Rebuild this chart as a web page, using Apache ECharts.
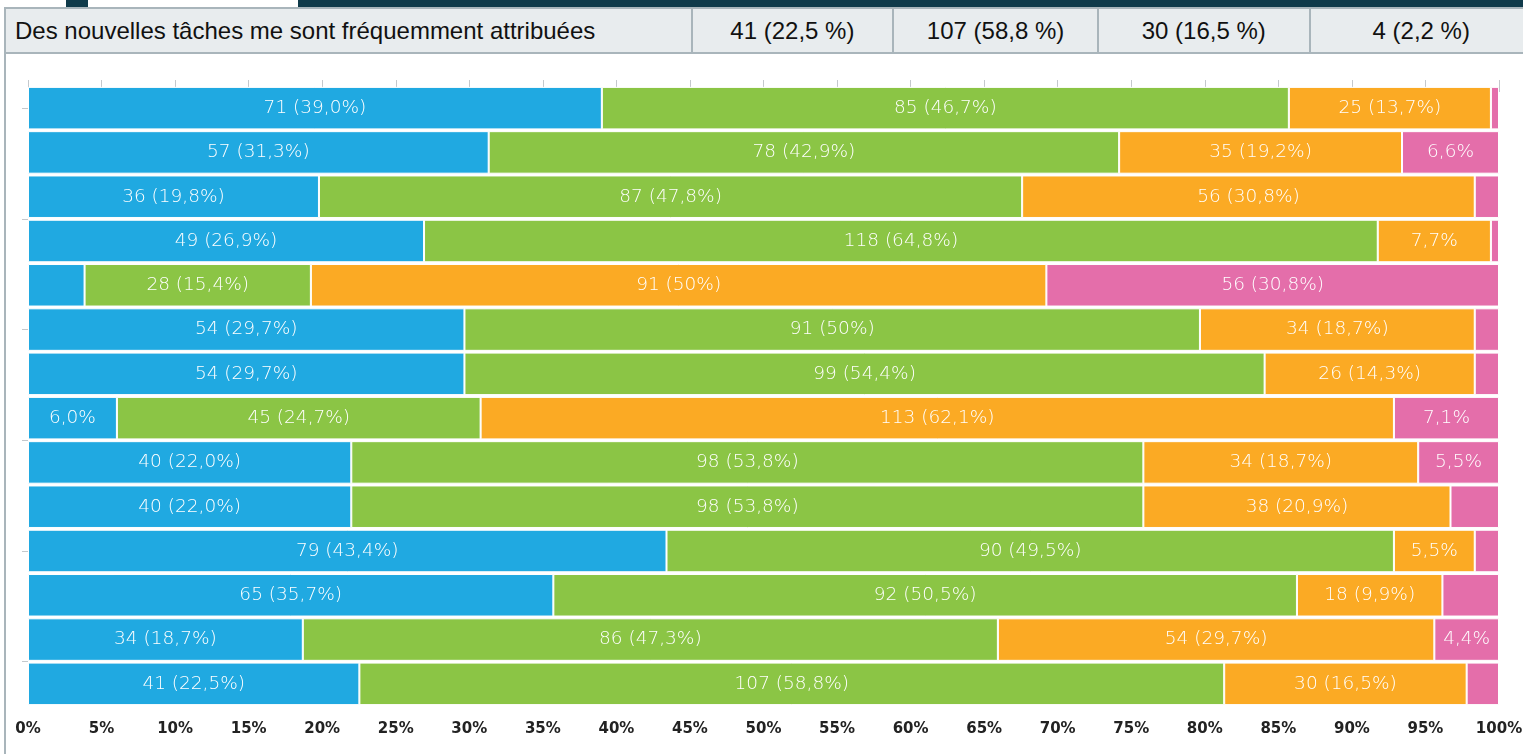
<!DOCTYPE html>
<html>
<head>
<meta charset="utf-8">
<script src="https://cdn.jsdelivr.net/npm/echarts@6/dist/echarts.min.js"></script>
<style>
  html, body { margin: 0; padding: 0; background: #fff; }
  #page { position: relative; width: 1523px; height: 754px; overflow: hidden; }
  #chart { position: absolute; left: 0; top: 0; width: 1523px; height: 754px; }
  .strip { position: absolute; top: 0; left: 66px; width: 1457px; height: 8px; background: #0f3a4a; }
  .tab { position: absolute; top: 0; left: 88px; width: 210px; height: 8px; background: #fff; }
  .sidebar { position: absolute; left: 4px; top: 52px; width: 2px; height: 702px; background: #a9b5bb; }
  table.head { position: absolute; top: 7px; left: 4px; width: 1530px; border-collapse: collapse;
    background: #e8ecee; font-family: "Liberation Sans", Arial, sans-serif; font-size: 24px; color: #111; }
  table.head td { border: 2px solid #a9b5bb; height: 43px; padding: 0; text-align: center; white-space: nowrap; }
  table.head td.q { text-align: left; padding-left: 9px; }
</style>
</head>
<body>
<div id="page">
  <div id="chart"></div>
  <div class="strip"></div>
  <div class="tab"></div>
  <div class="sidebar"></div>
  <table class="head">
    <tr>
      <td class="q" style="width:676px">Des nouvelles tâches me sont fréquemment attribuées</td>
      <td style="width:200px">41 (22,5 %)</td>
      <td style="width:203px">107 (58,8 %)</td>
      <td style="width:210px">30 (16,5 %)</td>
      <td style="width:222px">4 (2,2 %)</td>
    </tr>
  </table>
</div>
<script>
// réponses par question (haut -> bas), total 182 répondants
var questions = ['Q1', 'Q2', 'Q3', 'Q4', 'Q5', 'Q6', 'Q7', 'Q8', 'Q9', 'Q10', 'Q11', 'Q12', 'Q13', 'Q14'];
var seriesNames = ["Tout à fait d'accord", "Plutôt d'accord", "Plutôt pas d'accord", "Pas du tout d'accord"];
var toutAFait  = [71, 57, 36, 49,  7, 54, 54,  11, 40, 40, 79, 65, 34, 41];
var plutot     = [85, 78, 87, 118, 28, 91, 99, 45, 98, 98, 90, 92, 86, 107];
var plutotPas  = [25, 35, 56, 14, 91, 34, 26, 113, 34, 38, 10, 18, 54, 30];
var pasDuTout  = [1, 12,  3,  1, 56,  3,  3,  13, 10,  6,  3,  7,  8,  4];
var xTicks = ['0%', '5%', '10%', '15%', '20%', '25%', '30%', '35%', '40%', '45%', '50%',
  '55%', '60%', '65%', '70%', '75%', '80%', '85%', '90%', '95%', '100%'];
var colors = ['#20a9e1', '#8bc545', '#fbaa24', '#e46eaa'];

var counts = [toutAFait, plutot, plutotPas, pasDuTout];
var totals = questions.map(function (q, i) {
  return counts.reduce(function (s, arr) { return s + arr[i]; }, 0);
});

function fmtPct(p) {
  var r = Math.round(p * 10) / 10;
  var s = Math.abs(p - Math.round(p)) < 1e-9 ? String(Math.round(p)) : r.toFixed(1);
  return s.replace('.', ',') + '%';
}

var myChart = echarts.init(document.getElementById('chart'), null, { renderer: 'canvas' });

var series = counts.map(function (arr, si) {
  return {
    name: seriesNames[si],
    type: 'bar',
    stack: 'total',
    xAxisIndex: 0,
    yAxisIndex: 0,
    barCategoryGap: '4%',
    itemStyle: { color: colors[si], borderColor: '#fff', borderWidth: 1 },
    label: {
      show: true,
      position: 'inside',
      color: '#fff',
      fontFamily: 'DejaVu Sans',
      fontWeight: 200,
      fontSize: 18.5,
      formatter: function (p) {
        var n = arr[p.dataIndex];
        var pct = n / totals[p.dataIndex] * 100;
        if (pct >= 9) return n + ' (' + fmtPct(pct) + ')';
        if (pct >= 4) return fmtPct(pct);
        return '';
      }
    },
    data: arr.map(function (n, i) { return n / totals[i] * 100; })
  };
});

var option = {
  animation: false,
  grid: { left: 28, right: 24, top: 86, bottom: 48, containLabel: false, outerBoundsMode: 'none' },
  xAxis: [
    {
      type: 'value', min: 0, max: 100, interval: 5, position: 'bottom',
      axisLine: { show: false },
      splitLine: { show: false },
      axisTick: { show: true, length: 6, lineStyle: { color: '#c4c8cc' } },
      axisLabel: {
        color: '#222', fontFamily: 'DejaVu Sans', fontWeight: 'bold', fontSize: 15, margin: 16,
        formatter: function (v) { return xTicks[Math.round(v / 5)]; }
      }
    },
    {
      type: 'value', min: 0, max: 100, interval: 5, position: 'top',
      axisLine: { show: false },
      splitLine: { show: false },
      axisTick: { show: true, length: 6, lineStyle: { color: '#c4c8cc' } },
      axisLabel: { show: false }
    }
  ],
  yAxis: [
    {
      type: 'category', data: questions, inverse: true,
      axisLine: { show: false }, axisTick: { show: false }, axisLabel: { show: false }
    },
    {
      type: 'value', min: 0, max: 14, inverse: true, position: 'left', offset: 2,
      axisLine: { show: false }, splitLine: { show: false }, axisLabel: { show: false },
      axisTick: { show: true, length: 6, customValues: [0.5, 3, 5.5, 8, 10.5, 13],
        lineStyle: { color: '#c4c8cc' } }
    }
  ],
  series: series
};

myChart.setOption(option);
</script>
</body>
</html>
